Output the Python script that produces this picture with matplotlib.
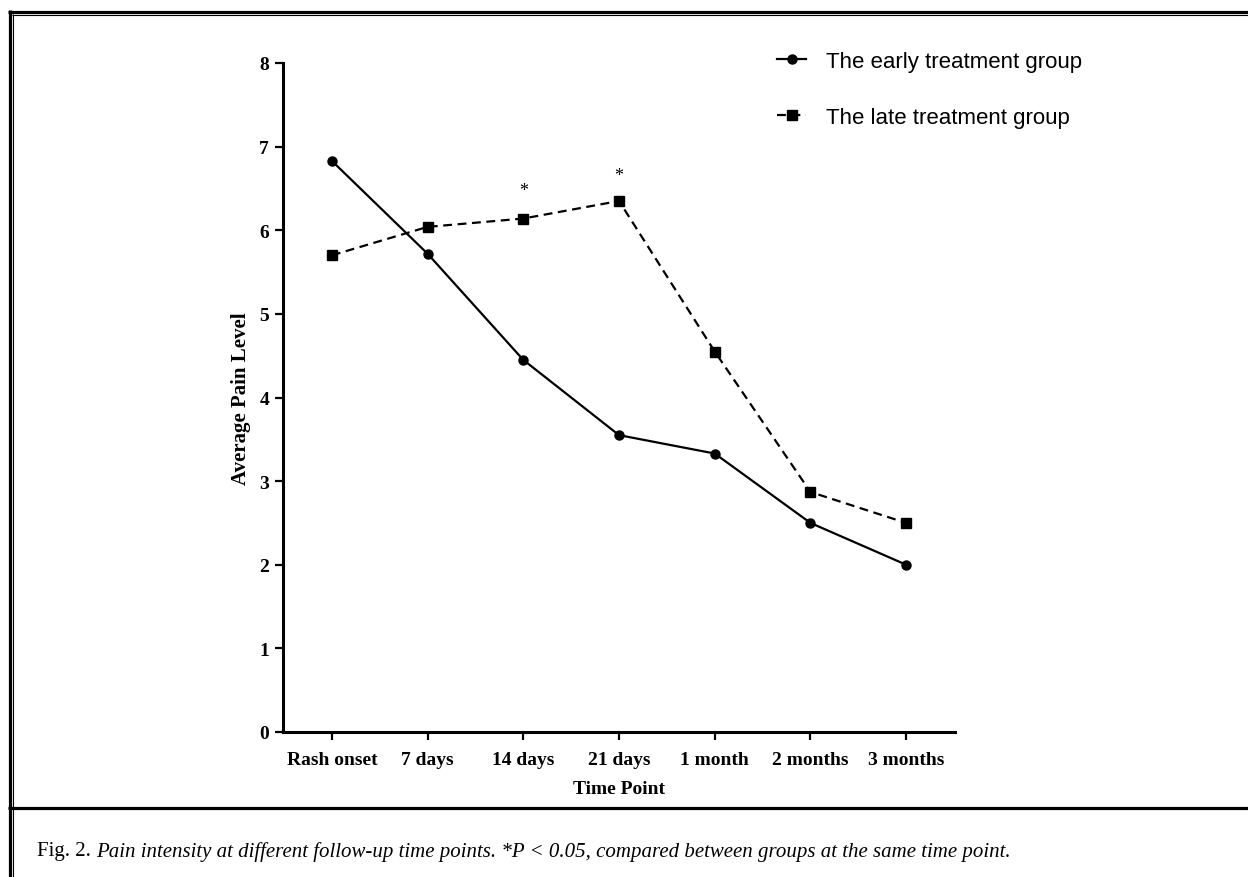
import matplotlib
matplotlib.use("Agg")
import matplotlib.pyplot as plt
from matplotlib.lines import Line2D
from matplotlib.font_manager import FontProperties

# --- Data ---
time_points = ["Rash onset", "7 days", "14 days", "21 days", "1 month", "2 months", "3 months"]
early_group = [6.83, 5.72, 4.45, 3.55, 3.33, 2.50, 2.00]
late_group = [5.70, 6.04, 6.14, 6.35, 4.55, 2.87, 2.50]
signif_idx = [2, 3]
signif_y = [6.47, 6.65]
y_ticks = [0, 1, 2, 3, 4, 5, 6, 7, 8]

W, H = 1248, 878
fig = plt.figure(figsize=(W / 100, H / 100), dpi=100)

def fx(px):
    return px / W

def fy(py):
    return 1 - py / H

# --- Axes placed in pixel terms ---
ax = fig.add_axes([fx(283), fy(733), fx(955) - fx(283), fy(64) - fy(733)])
x = list(range(len(time_points)))

ax.plot(x, early_group, color='black', linestyle='-', linewidth=1.6,
        marker='o', markersize=6.5, label="The early treatment group")
ax.plot(x, late_group, color='black', linestyle=(0, (4, 2.5)), linewidth=1.6,
        marker='s', markersize=6.5, label="The late treatment group")

for i, yv in zip(signif_idx, signif_y):
    ax.text(i, yv, "*", ha='center', va='center', fontsize=13,
            family='Liberation Serif')

ax.set_xlim(-0.51, 6.51)
ax.set_ylim(0, 8)
ax.set_xticks(x)
ax.set_xticklabels(time_points)
ax.set_yticks(y_ticks)

tick_font = FontProperties(family='Liberation Serif', weight='bold', size=14)
for lab in ax.get_xticklabels() + ax.get_yticklabels():
    lab.set_fontproperties(tick_font)

ax.spines['top'].set_visible(False)
ax.spines['right'].set_visible(False)
for s in ('left', 'bottom'):
    ax.spines[s].set_linewidth(2.2)
ax.tick_params(axis='both', direction='out', length=6, width=1.6)
ax.tick_params(axis='x', pad=8)
ax.tick_params(axis='y', pad=4)

ax.set_xlabel("Time Point", family='Liberation Serif', weight='bold', size=14, labelpad=8)
ax.set_ylabel("Average Pain Level", family='Liberation Serif', weight='bold', size=15, labelpad=6)

# --- Legend ---
ax.legend(loc='upper left', bbox_to_anchor=(fx(766), fy(41)), bbox_transform=fig.transFigure,
          frameon=False, prop={'family': 'Liberation Sans', 'size': 16},
          handlelength=1.3, handletextpad=0.9, labelspacing=1.55, borderpad=0)

# --- Frame lines ---
def hline(y, x0, x1, lw):
    fig.add_artist(Line2D([fx(x0), fx(x1)], [fy(y), fy(y)], color='black',
                          linewidth=lw, transform=fig.transFigure, solid_capstyle='butt'))

def vline(x, y0, y1, lw):
    fig.add_artist(Line2D([fx(x), fx(x)], [fy(y0), fy(y1)], color='black',
                          linewidth=lw, transform=fig.transFigure, solid_capstyle='butt'))

hline(12.5, 8, W, 2.3)
hline(15.5, 12, W, 0.8)
vline(9.5, 11, H, 2.3)
vline(12.5, 15, H, 0.8)
hline(809, 8, W, 2.3)

# --- Caption ---
cap_y = fy(852)
t1 = fig.text(fx(37), cap_y, "Fig. 2. ", family='Liberation Serif', size=15, va='center')
fig.canvas.draw()
bb = t1.get_window_extent()
fig.text(bb.x1 / W, cap_y,
         "Pain intensity at different follow-up time points. *P < 0.05, compared between groups at the same time point.",
         family='Liberation Serif', style='italic', size=15, va='center')

plt.savefig("out.png", dpi=100)
plt.close()
